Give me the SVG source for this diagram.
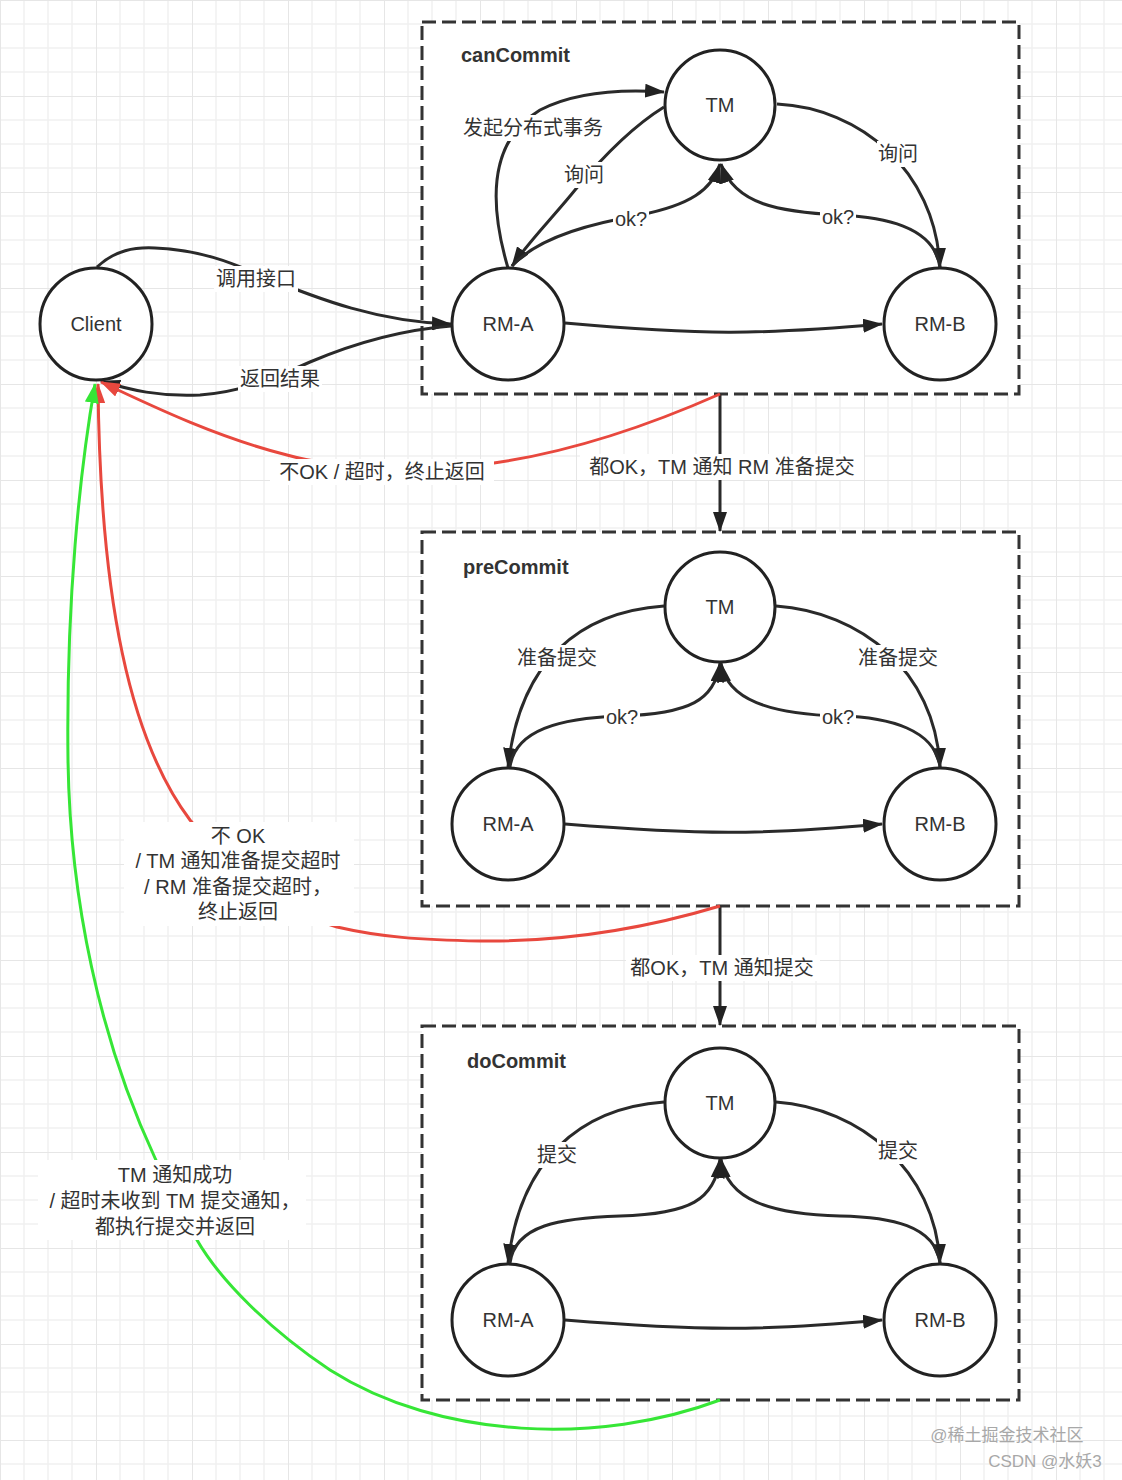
<svg xmlns="http://www.w3.org/2000/svg" width="1122" height="1480" viewBox="0 0 1122 1480">
<style>
.t{font-family:"Liberation Sans","Noto Sans CJK SC",sans-serif;font-size:20px;fill:#333;text-anchor:middle}
.title{font-family:"Liberation Sans","Noto Sans CJK SC",sans-serif;font-size:20px;font-weight:bold;fill:#333}
.node{fill:#fff;stroke:#222;stroke-width:3}
.box{fill:#fff;stroke:#333;stroke-width:3;stroke-dasharray:14 6}
.c{fill:none;stroke:#2a2a2a;stroke-width:3;marker-end:url(#ah)}
.cn{fill:none;stroke:#2a2a2a;stroke-width:3}
.red{fill:none;stroke:#e8483e;stroke-width:3;marker-end:url(#ahr)}
.green{fill:none;stroke:#36e636;stroke-width:3;marker-end:url(#ahg)}
.bg{fill:#fff}
.wm{font-family:"Liberation Sans","Noto Sans CJK SC",sans-serif;font-size:17px;fill:#a8a8a8;text-anchor:middle}
</style>
<defs>
<pattern id="grid" width="96" height="96" patternUnits="userSpaceOnUse">
<rect width="96" height="96" fill="#fff"/>
<path d="M24,0V96M48,0V96M72,0V96M0,24H96M0,48H96M0,72H96" stroke="#f1f1f1" stroke-width="1.5"/>
<path d="M0,0V96M0,0H96" stroke="#e6e6e6" stroke-width="2"/>
</pattern>
<marker id="ah" viewBox="0 0 20 14" refX="19" refY="7" markerWidth="20" markerHeight="14" markerUnits="userSpaceOnUse" orient="auto"><path d="M0,0L20,7L0,14z" fill="#222"/></marker>
<marker id="ahr" viewBox="0 0 20 14" refX="19" refY="7" markerWidth="20" markerHeight="14" markerUnits="userSpaceOnUse" orient="auto"><path d="M0,0L20,7L0,14z" fill="#e8483e"/></marker>
<marker id="ahg" viewBox="0 0 20 14" refX="19" refY="7" markerWidth="20" markerHeight="14" markerUnits="userSpaceOnUse" orient="auto"><path d="M0,0L20,7L0,14z" fill="#36e636"/></marker>
</defs>
<rect width="1122" height="1480" fill="url(#grid)"/>

<g id="phase-canCommit"><rect class="box" x="422" y="22" width="597" height="372"/><text class="title" x="461" y="62">canCommit</text></g>
<g id="phase-preCommit"><rect class="box" x="422" y="532" width="597" height="374"/><text class="title" x="463" y="574">preCommit</text></g>
<g id="phase-doCommit"><rect class="box" x="422" y="1026" width="597" height="374"/><text class="title" x="467" y="1068">doCommit</text></g>

<g id="connectors">
<!-- client -->
<path class="c" d="M97,267 C115,250 135,247 155,248 C200,250 230,262 260,275 C320,300 380,322 451,324"/>
<path class="c" d="M451,326 C400,330 350,345 310,362 C270,380 240,392 200,395 C160,397 130,390 101,381"/>
<!-- canCommit -->
<path class="c" d="M508,268 C488,200 490,140 540,110 C575,92 620,89 664,92"/>
<path class="c" d="M664,107 C630,128 600,160 575,190 C555,215 530,240 512,266"/>
<path class="c" d="M512,266 C540,235 600,222 640,215 C690,205 712,190 720,164"/>
<path class="c" d="M777,104 C860,108 935,170 940,267"/>
<path class="c" d="M940,268 C935,225 880,217 840,215 C780,212 735,205 721,164"/>
<path class="c" d="M565,323 C700,335 760,335 882,324"/>
<!-- between -->
<path class="c" d="M720,394 L720,531"/>
<path class="c" d="M720,906 L720,1025"/>
<!-- preCommit -->
<path class="c" d="M664,606 C580,612 520,660 508,767"/>
<path class="c" d="M510,767 C515,730 560,718 620,716 C690,714 715,700 720,663"/>
<path class="c" d="M776,606 C860,612 935,670 940,767"/>
<path class="c" d="M940,767 C935,730 890,717 840,716 C770,714 727,700 721,663"/>
<path class="c" d="M565,824 C700,835 760,835 882,824"/>
<!-- doCommit -->
<path class="c" d="M664,1102 C580,1108 520,1160 508,1263"/>
<path class="c" d="M510,1263 C515,1225 560,1218 620,1216 C690,1214 715,1200 720,1159"/>
<path class="c" d="M776,1102 C860,1108 935,1170 940,1263"/>
<path class="c" d="M940,1263 C935,1225 890,1217 840,1216 C770,1214 727,1200 721,1159"/>
<path class="c" d="M565,1320 C700,1331 760,1331 882,1320"/>
<!-- red / green -->
<path class="red" d="M720,394 C650,425 570,452 494,463 C430,472 340,470 287,455 C220,438 160,410 101,382"/>
<path class="red" d="M720,906 C640,930 560,942 480,941 C420,940 380,937 337,927 C280,910 230,870 190,820 C130,740 100,600 98,384"/>
<path class="green" d="M720,1400 C600,1445 440,1440 330,1370 C270,1330 220,1280 197,1240 C180,1210 165,1180 155,1158 C100,1040 70,900 68,760 C66,600 80,470 95,384"/>

<!-- labels -->
<rect class="bg" x="214" y="266" width="84" height="26"/><text class="t" x="256" y="286">调用接口</text>
<rect class="bg" x="238" y="366" width="84" height="26"/><text class="t" x="280" y="386">返回结果</text>
<rect class="bg" x="459" y="115" width="148" height="26"/><text class="t" x="533" y="135">发起分布式事务</text>
<rect class="bg" x="563" y="162" width="42" height="26"/><text class="t" x="584" y="182">询问</text>
<rect class="bg" x="613" y="207" width="36" height="24"/><text class="t" x="631" y="226">ok?</text>
<rect class="bg" x="877" y="141" width="42" height="26"/><text class="t" x="898" y="161">询问</text>
<rect class="bg" x="820" y="205" width="36" height="24"/><text class="t" x="838" y="224">ok?</text>
<rect class="bg" x="270" y="459" width="224" height="26"/><text class="t" x="382" y="479">不OK / 超时，终止返回</text>
<rect class="bg" x="580" y="454" width="284" height="26"/><text class="t" x="722" y="474">都OK，TM 通知 RM 准备提交</text>
<rect class="bg" x="514" y="645" width="86" height="26"/><text class="t" x="557" y="665">准备提交</text>
<rect class="bg" x="604" y="705" width="36" height="24"/><text class="t" x="622" y="724">ok?</text>
<rect class="bg" x="855" y="645" width="86" height="26"/><text class="t" x="898" y="665">准备提交</text>
<rect class="bg" x="820" y="705" width="36" height="24"/><text class="t" x="838" y="724">ok?</text>
<rect class="bg" x="124" y="822" width="230" height="104"/>
<text class="t" x="238" y="843">不 OK</text>
<text class="t" x="238" y="868">/ TM 通知准备提交超时</text>
<text class="t" x="238" y="894">/ RM 准备提交超时，</text>
<text class="t" x="238" y="919">终止返回</text>
<rect class="bg" x="626" y="955" width="194" height="26"/><text class="t" x="722" y="975">都OK，TM 通知提交</text>
<rect class="bg" x="536" y="1142" width="42" height="26"/><text class="t" x="557" y="1162">提交</text>
<rect class="bg" x="877" y="1138" width="42" height="26"/><text class="t" x="898" y="1158">提交</text>
<rect class="bg" x="38" y="1160" width="268" height="80"/>
<text class="t" x="175" y="1182">TM 通知成功</text>
<text class="t" x="175" y="1208">/ 超时未收到 TM 提交通知，</text>
<text class="t" x="175" y="1234">都执行提交并返回</text>
</g>

<g id="client"><circle class="node" cx="96" cy="324" r="56"/><text class="t" x="96" y="331">Client</text></g>
<g id="cc-tm"><circle class="node" cx="720" cy="105" r="55"/><text class="t" x="720" y="112">TM</text></g>
<g id="cc-rma"><circle class="node" cx="508" cy="324" r="56"/><text class="t" x="508" y="331">RM-A</text></g>
<g id="cc-rmb"><circle class="node" cx="940" cy="324" r="56"/><text class="t" x="940" y="331">RM-B</text></g>
<g id="pc-tm"><circle class="node" cx="720" cy="607" r="55"/><text class="t" x="720" y="614">TM</text></g>
<g id="pc-rma"><circle class="node" cx="508" cy="824" r="56"/><text class="t" x="508" y="831">RM-A</text></g>
<g id="pc-rmb"><circle class="node" cx="940" cy="824" r="56"/><text class="t" x="940" y="831">RM-B</text></g>
<g id="dc-tm"><circle class="node" cx="720" cy="1103" r="55"/><text class="t" x="720" y="1110">TM</text></g>
<g id="dc-rma"><circle class="node" cx="508" cy="1320" r="56"/><text class="t" x="508" y="1327">RM-A</text></g>
<g id="dc-rmb"><circle class="node" cx="940" cy="1320" r="56"/><text class="t" x="940" y="1327">RM-B</text></g>

<g id="watermark">
<text class="wm" x="1007" y="1441">@稀土掘金技术社区</text>
<text class="wm" x="1045" y="1467">CSDN @水妖3</text>
</g>
</svg>
